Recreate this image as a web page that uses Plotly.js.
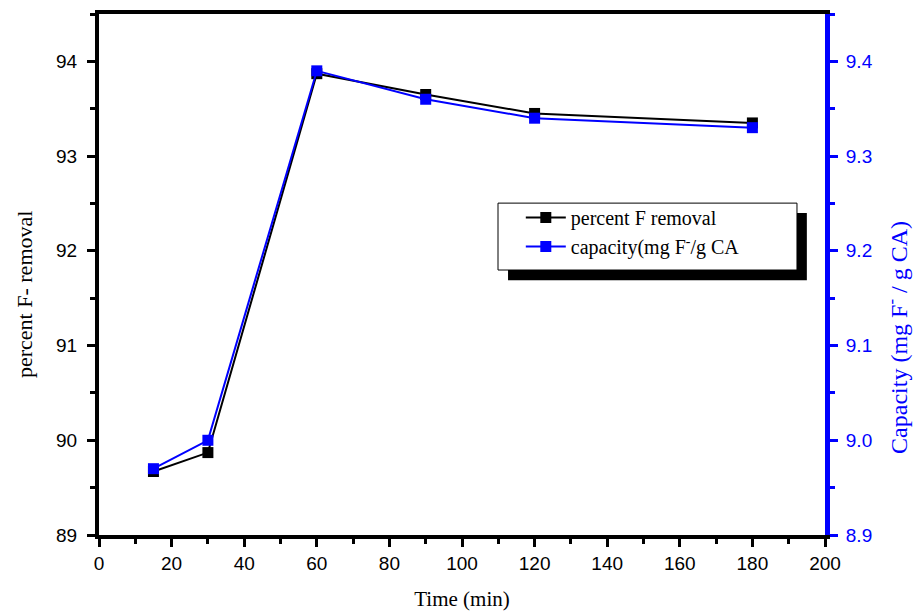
<!DOCTYPE html>
<html>
<head>
<meta charset="utf-8">
<script src="https://cdn.plot.ly/plotly-3.0.1.min.js"></script>
<style>html,body{margin:0;padding:0;background:#fff}#chart{width:920px;height:611px}</style>
</head>
<body>
<div id="chart"></div>
<script>
const time = [15, 30, 60, 90, 120, 180];
const percentRemoval = [89.67, 89.87, 93.87, 93.65, 93.45, 93.35];
const capacity = [8.97, 9.00, 9.39, 9.36, 9.34, 9.33];
const xTicks = [0, 20, 40, 60, 80, 100, 120, 140, 160, 180, 200];

const tickFont = {family: 'Liberation Sans, Arial', size: 19, color: '#000'};
const titleFont = {family: 'Liberation Serif, Times New Roman', size: 21, color: '#000'};

const traces = [
  {x: time, y: percentRemoval, name: 'percent F removal', type: 'scatter', mode: 'lines+markers',
   line: {color: '#000', width: 2}, marker: {symbol: 'square', size: 11, color: '#000'}, yaxis: 'y'},
  {x: time, y: capacity, name: 'capacity(mg F<sup>-</sup>/g CA', type: 'scatter', mode: 'lines+markers',
   line: {color: '#0000ff', width: 2}, marker: {symbol: 'square', size: 11, color: '#0000ff'}, yaxis: 'y2'}
];

const layout = {
  width: 920, height: 611,
  margin: {l: 99, r: 95, t: 14, b: 76},
  paper_bgcolor: '#fff', plot_bgcolor: '#fff',
  showlegend: true,
  legend: {x: 0.581, y: 0.647, xanchor: 'left', yanchor: 'top', bgcolor: 'rgba(0,0,0,0)', borderwidth: 0,
    font: {family: 'Liberation Serif, Times New Roman', size: 20, color: '#000'}, tracegroupgap: 2, itemwidth: 40},
  xaxis: {range: [0, 200], tickvals: xTicks, ticktext: xTicks.map(String), showgrid: false, zeroline: false,
    showline: true, linecolor: '#000', linewidth: 4, mirror: true,
    ticks: 'outside', ticklen: 8, tickwidth: 3, tickcolor: '#000',
    minor: {dtick: 10, ticks: 'outside', ticklen: 5, tickwidth: 3, tickcolor: '#000', showgrid: false},
    tickfont: tickFont, title: {text: 'Time (min)', font: titleFont, standoff: 22}},
  yaxis: {range: [89, 94.5], dtick: 1, tick0: 89, showgrid: false, zeroline: false,
    showline: true, linecolor: '#000', linewidth: 4,
    ticks: 'outside', ticklen: 8, tickwidth: 3, tickcolor: '#000', ticklabelstandoff: 6,
    minor: {dtick: 0.5, ticks: 'outside', ticklen: 5, tickwidth: 3, tickcolor: '#000', showgrid: false},
    tickfont: tickFont},
  yaxis2: {range: [8.9, 9.45], dtick: 0.1, tick0: 8.9, tickformat: '.1f', overlaying: 'y', side: 'right',
    showgrid: false, zeroline: false, showline: true, linecolor: '#0000ff', linewidth: 5,
    ticks: 'outside', ticklen: 8, tickwidth: 3, tickcolor: '#0000ff', ticklabelstandoff: 4,
    minor: {dtick: 0.05, ticks: 'outside', ticklen: 5, tickwidth: 3, tickcolor: '#0000ff', showgrid: false},
    tickfont: {family: 'Liberation Sans, Arial', size: 19, color: '#0000ff'}},
  annotations: [
    {text: 'percent F- removal', xref: 'paper', yref: 'paper', x: -0.1019, y: 0.4607, textangle: -90,
     showarrow: false, xanchor: 'center', yanchor: 'middle', font: {family: 'Liberation Serif, Times New Roman', size: 22, color: '#000'}},
    {text: 'Capacity (mg F<sup>-</sup> / g CA)', xref: 'paper', yref: 'paper', x: 1.099, y: 0.38, textangle: -90,
     showarrow: false, xanchor: 'center', yanchor: 'middle', font: {family: 'Liberation Serif, Times New Roman', size: 24, color: '#0000ff'}}
  ],
  shapes: [
    {type: 'rect', xref: 'paper', yref: 'paper', x0: 0.5634, x1: 0.975, y0: 0.489, y1: 0.618,
     fillcolor: '#000', line: {width: 0}, layer: 'above'},
    {type: 'rect', xref: 'paper', yref: 'paper', x0: 0.5496, x1: 0.9614, y0: 0.5086, y1: 0.637,
     fillcolor: '#fff', line: {width: 1, color: '#000'}, layer: 'above'}
  ]
};

Plotly.newPlot('chart', traces, layout, {displayModeBar: false, staticPlot: true});
</script>
</body>
</html>
